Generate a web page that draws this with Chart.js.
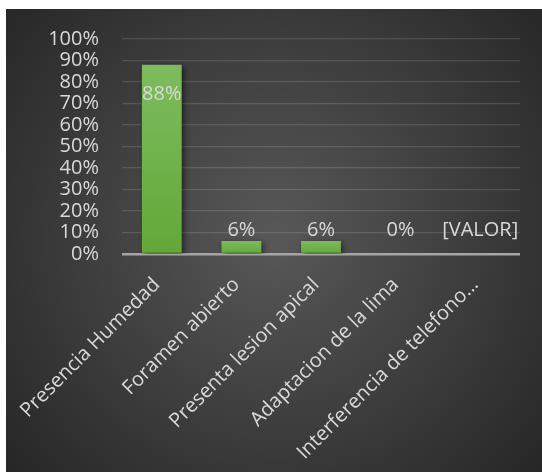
<!DOCTYPE html>
<html lang="es">
<head>
    <meta charset="UTF-8">
    <title>Chart</title>
    <script src="https://cdn.jsdelivr.net/npm/chart.js@4.4.1/dist/chart.umd.min.js"></script>
    <style>
        body { margin: 0; background: #fff; }
        canvas { display: block; }
    </style>
</head>
<body>

    <canvas id="chart" width="542" height="472"></canvas>

    <script>

    const categories = ['Presencia Humedad', 'Foramen abierto', 'Presenta lesion apical', 'Adaptacion de la lima', 'Interferencia de telefono…'];
    const values = [88, 6, 6, 0, 0];
    const valueLabels = ['88%', '6%', '6%', '0%', '[VALOR]'];

    const textColor = '#d9d9d9';
    const fontFamily = "'Open Sans', 'Noto Sans', sans-serif";

    // dark panel with radial shading behind the chart
    const backgroundPlugin = {
        id: 'panel',
        beforeDraw(chart) {
            const ctx = chart.ctx;
            ctx.save();
            ctx.fillStyle = '#ffffff';
            ctx.fillRect(0, 0, chart.width, chart.height);
            const g = ctx.createRadialGradient(275, 235, 10, 275, 235, 380);
            g.addColorStop(0, '#575757');
            g.addColorStop(1, '#232323');
            ctx.fillStyle = g;
            ctx.fillRect(6, 9, chart.width - 6, chart.height - 9);
            ctx.restore();
        }
    };

    // soft shadow under the bars
    const shadowPlugin = {
        id: 'barShadow',
        beforeDatasetsDraw(chart) {
            const ctx = chart.ctx;
            ctx.save();
            ctx.shadowColor = 'rgba(0,0,0,0.55)';
            ctx.shadowBlur = 6;
            ctx.shadowOffsetX = 2;
            ctx.shadowOffsetY = 2;
        },
        afterDatasetsDraw(chart) {
            chart.ctx.restore();
        }
    };

    // value labels: inside the top of tall bars, above short ones
    const labelPlugin = {
        id: 'valueLabels',
        afterDatasetsDraw(chart) {
            const ctx = chart.ctx;
            const meta = chart.getDatasetMeta(0);
            const base = chart.scales.y.getPixelForValue(0);
            ctx.save();
            ctx.font = '20px ' + fontFamily;
            ctx.fillStyle = textColor;
            ctx.textAlign = 'center';
            ctx.textBaseline = 'alphabetic';
            meta.data.forEach((bar, i) => {
                let y;
                if (values[i] > 50) {
                    y = bar.y + 35;
                } else {
                    y = Math.min(bar.y - 5, base - 18);
                }
                ctx.fillText(valueLabels[i], bar.x, y);
            });
            ctx.restore();
        }
    };

    function barGradient(context) {
        const chart = context.chart;
        if (!chart.chartArea || context.type !== 'data') return '#70ad47';
        const y = chart.scales.y;
        const top = y.getPixelForValue(values[context.dataIndex]);
        const bottom = y.getPixelForValue(0);
        if (bottom - top < 1) return '#70ad47';
        const g = chart.ctx.createLinearGradient(0, top, 0, bottom);
        g.addColorStop(0, '#7ebb5e');
        g.addColorStop(1, '#62a838');
        return g;
    }

    const ctx = document.getElementById('chart').getContext('2d');
    const myChart = new Chart(ctx, {
        type: 'bar',
        data: {
            labels: categories,
            datasets: [{
                data: values,
                backgroundColor: barGradient,
                borderWidth: 0,
                categoryPercentage: 1,
                barPercentage: 0.5
            }]
        },
        plugins: [backgroundPlugin, shadowPlugin, labelPlugin],
        options: {
            responsive: false,
            animation: false,
            layout: {
                padding: { left: 0, top: 39, right: 22, bottom: 3 }
            },
            plugins: {
                legend: { display: false },
                tooltip: { enabled: false }
            },
            scales: {
                x: {
                    grid: { display: false },
                    border: { display: false },
                    ticks: {
                        color: textColor,
                        font: { family: fontFamily, size: 20 },
                        maxRotation: 45,
                        minRotation: 45,
                        autoSkip: false,
                        padding: 11,
                        labelOffset: -5
                    }
                },
                y: {
                    min: 0,
                    max: 100,
                    border: { display: false },
                    grid: {
                        drawTicks: false,
                        color: ctx => ctx.tick && ctx.tick.value === 0 ? '#a6a6a6' : 'rgba(255,255,255,0.13)',
                        lineWidth: ctx => ctx.tick && ctx.tick.value === 0 ? 2.5 : 1.2
                    },
                    ticks: {
                        stepSize: 10,
                        autoSkip: false,
                        color: textColor,
                        font: { family: fontFamily, size: 20, lineHeight: 1 },
                        padding: 23,
                        callback: v => v + '%'
                    },
                    afterFit(scale) {
                        scale.width = 122;
                    }
                }
            }
        }
    });

    </script>
</body>
</html>
